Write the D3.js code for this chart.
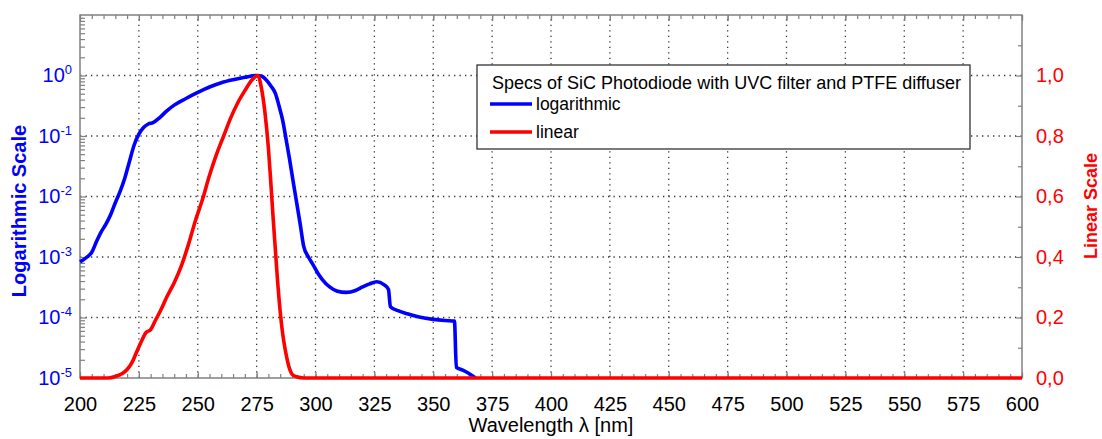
<!DOCTYPE html>
<html>
<head>
<meta charset="utf-8">
<script src="https://cdn.jsdelivr.net/npm/d3@7"></script>
<style>
  body { margin: 0; background: #fff; }
  svg { display: block; font-family: "Liberation Sans", Arial, sans-serif; }
</style>
</head>
<body>
<svg id="chart" width="1102" height="439"></svg>
<script>
// Responsivity, log curve (left axis):
var logWave  = [200, 203, 205, 207, 209, 211, 213, 215, 217, 219, 221, 223, 225, 227, 229, 231, 234, 237, 240, 245,
                250, 255, 260, 265, 270, 275, 277, 279, 281, 283, 284.5, 286, 287.5, 289, 290.5, 292, 293.5, 295, 297, 299,
                301, 303, 306, 309, 313, 317, 320, 323, 326, 329, 331, 331.8, 335, 339, 344, 350, 355, 359, 359.8, 362.5,
                365, 368];
var logValue = [8.3e-4, 1.0e-3, 1.2e-3, 1.8e-3, 2.6e-3, 3.5e-3, 5.0e-3, 7.9e-3, 1.2e-2, 2.0e-2, 3.8e-2, 7.1e-2, 0.107, 0.138, 0.158, 0.166, 0.204, 0.263, 0.324, 0.417,
                0.525, 0.646, 0.759, 0.851, 0.933, 1.0, 0.977, 0.851, 0.676, 0.501, 0.316, 0.186, 8.9e-2, 4.1e-2, 1.78e-2, 7.9e-3, 3.5e-3, 1.5e-3, 1.0e-3, 7.4e-4,
                5.4e-4, 4.2e-4, 3.2e-4, 2.75e-4, 2.6e-4, 2.8e-4, 3.2e-4, 3.6e-4, 3.9e-4, 3.5e-4, 2.9e-4, 1.5e-4, 1.3e-4, 1.15e-4, 1.02e-4, 9.3e-5, 8.9e-5, 8.7e-5, 1.5e-5, 1.35e-5,
                1.2e-5, 1.0e-5];

// Same data on linear axis (right):
var linWave  = [200, 212, 215, 218, 220, 222, 224, 226, 228, 230, 232, 234, 237, 240, 243, 246, 249, 252, 255, 258,
                261, 264, 267, 270, 273, 275.5, 277, 278.5, 280, 281, 282, 283, 284, 285, 286, 287, 288, 289, 290, 292,
                295, 600];
var linValue = [0, 0, 0.005, 0.015, 0.028, 0.05, 0.085, 0.12, 0.15, 0.16, 0.19, 0.22, 0.27, 0.315, 0.37, 0.44, 0.52, 0.59, 0.67, 0.74,
                0.80, 0.86, 0.91, 0.95, 0.985, 1.0, 0.96, 0.88, 0.76, 0.65, 0.53, 0.42, 0.31, 0.22, 0.15, 0.10, 0.06, 0.03, 0.013, 0.004,
                0, 0];

// Axis ticks:
var xTicks   = [200, 225, 250, 275, 300, 325, 350, 375, 400, 425, 450, 475, 500, 525, 550, 575, 600];
var logTicks = [1e-5, 1e-4, 1e-3, 1e-2, 1e-1, 1e0, 1e1];
var linTicks = [0, 0.2, 0.4, 0.6, 0.8, 1.0, 1.2];
var linMinor = [0.1, 0.3, 0.5, 0.7, 0.9, 1.1];

var legendTitle = "Specs of SiC Photodiode with UVC filter and PTFE diffuser";
var seriesNames = ["logarithmic", "linear"];
var seriesColors = ["#0000ff", "#ff0000"];

// Figure proportions:
var W = 1102, H = 439;
var margin = {top: 15, right: 80, bottom: 61, left: 80};
var plotL = margin.left, plotR = W - margin.right,
    plotB = H - margin.bottom, plotT = margin.top;

var x    = d3.scaleLinear().domain([200, 600]).range([plotL, plotR]);
var yLog = d3.scaleLog().domain([1e-5, 10]).range([plotB, plotT]);
var yLin = d3.scaleLinear().domain([0, 1.2]).range([plotB, plotT]);

var svg = d3.select("#chart");

// Dotted grid:
var grid = svg.append("g");
grid.selectAll(".gv")
  .data(xTicks.slice(1, -1))
  .enter().append("line")
    .attr("class", "gv")
    .attr("x1", d => x(d)).attr("x2", d => x(d))
    .attr("y1", plotB).attr("y2", plotT);
grid.selectAll(".gh")
  .data(logTicks.slice(1, -1))
  .enter().append("line")
    .attr("class", "gh")
    .attr("x1", plotL).attr("x2", plotR)
    .attr("y1", d => yLog(d)).attr("y2", d => yLog(d));
grid.selectAll("line")
  .attr("stroke", "#333")
  .attr("stroke-width", 1.3)
  .attr("stroke-dasharray", "1.3,4.2");

function styleAxis(g) {
  g.select(".domain").remove();
  g.selectAll(".tick line").attr("stroke", "#808080").attr("stroke-width", 1.2);
  g.attr("font-family", null).attr("font-size", null);
}

// Bottom and top axes (ticks inward):
var xMinor = d3.range(200, 601, 5);
svg.append("g").attr("transform", "translate(0," + plotB + ")")
  .call(d3.axisBottom(x).tickValues(xMinor).tickSize(-4).tickFormat(""))
  .call(styleAxis);
svg.append("g").attr("transform", "translate(0," + plotT + ")")
  .call(d3.axisTop(x).tickValues(xMinor).tickSize(-4).tickFormat(""))
  .call(styleAxis);
svg.append("g").attr("transform", "translate(0," + plotT + ")")
  .call(d3.axisTop(x).tickValues(xTicks).tickSize(-6).tickFormat(""))
  .call(styleAxis);
var xAxis = svg.append("g").attr("transform", "translate(0," + plotB + ")")
  .call(d3.axisBottom(x).tickValues(xTicks).tickSize(-6).tickPadding(19).tickFormat(d3.format("d")))
  .call(styleAxis);
xAxis.selectAll("text").attr("fill", "#000").style("font-size", "20px");

// Left log axis:
var logMinor = [];
for (var k = -5; k <= 0; k++) {
  for (var m = 2; m <= 9; m++) logMinor.push(m * Math.pow(10, k));
}
svg.append("g").attr("transform", "translate(" + plotL + ",0)")
  .call(d3.axisLeft(yLog).tickValues(logMinor).tickSize(-5).tickFormat(""))
  .call(styleAxis);
var yAxisL = svg.append("g").attr("transform", "translate(" + plotL + ",0)")
  .call(d3.axisLeft(yLog).tickValues(logTicks.slice(0, -1)).tickSize(-6).tickPadding(8).tickFormat(""))
  .call(styleAxis);
yAxisL.selectAll(".tick text").each(function(d) {
  var t = d3.select(this).attr("fill", seriesColors[0]).style("font-size", "20px");
  t.append("tspan").text("10");
  t.append("tspan").attr("dy", "-8").style("font-size", "13px").text(Math.round(Math.log10(d)));
});

// Right linear axis:
svg.append("g").attr("transform", "translate(" + plotR + ",0)")
  .call(d3.axisRight(yLin).tickValues(linMinor).tickSize(-4).tickFormat(""))
  .call(styleAxis);
var yAxisR = svg.append("g").attr("transform", "translate(" + plotR + ",0)")
  .call(d3.axisRight(yLin).tickValues(linTicks.slice(0, -1)).tickSize(-6).tickPadding(14)
    .tickFormat(d => d3.format(".1f")(d).replace(".", ",")))
  .call(styleAxis);
yAxisR.selectAll("text").attr("fill", seriesColors[1]).style("font-size", "20px");

// Plot frame:
svg.append("rect")
  .attr("x", plotL).attr("y", plotT)
  .attr("width", plotR - plotL).attr("height", plotB - plotT)
  .attr("fill", "none").attr("stroke", "#808080").attr("stroke-width", 1.5);

// Curves:
var lineLog = d3.line().x(d => x(d[0])).y(d => yLog(d[1])).curve(d3.curveMonotoneX);
var lineLin = d3.line().x(d => x(d[0])).y(d => yLin(d[1])).curve(d3.curveMonotoneX);
svg.append("path")
  .datum(d3.zip(logWave, logValue))
  .attr("d", lineLog)
  .attr("fill", "none").attr("stroke", seriesColors[0]).attr("stroke-width", 3.6)
  .attr("stroke-linejoin", "round");
svg.append("path")
  .datum(d3.zip(linWave, linValue))
  .attr("d", lineLin)
  .attr("fill", "none").attr("stroke", seriesColors[1]).attr("stroke-width", 3.6)
  .attr("stroke-linejoin", "round");

// Axis titles:
svg.append("text")
  .attr("x", (plotL + plotR) / 2).attr("y", 432)
  .attr("text-anchor", "middle").style("font-size", "20px")
  .text("Wavelength \u03bb [nm]");
svg.append("text")
  .attr("transform", "translate(26,211) rotate(-90)")
  .attr("text-anchor", "middle").style("font-size", "20px").style("font-weight", "bold")
  .attr("fill", seriesColors[0])
  .text("Logarithmic Scale");
svg.append("text")
  .attr("transform", "translate(1097,206) rotate(-90)")
  .attr("text-anchor", "middle").style("font-size", "18px").style("font-weight", "bold")
  .attr("fill", seriesColors[1])
  .text("Linear Scale");

// Legend:
var legend = svg.append("g");
legend.append("rect")
  .attr("x", 477).attr("y", 65).attr("width", 493).attr("height", 84)
  .attr("fill", "#fff").attr("stroke", "#333").attr("stroke-width", 1.3);
legend.append("text")
  .attr("x", 492).attr("y", 89).style("font-size", "18px")
  .text(legendTitle);
var items = legend.selectAll(".item")
  .data(seriesNames)
  .enter().append("g")
    .attr("class", "item")
    .attr("transform", (d, i) => "translate(0," + (104 + i * 28) + ")");
items.append("line")
  .attr("x1", 490).attr("x2", 532)
  .attr("stroke", (d, i) => seriesColors[i]).attr("stroke-width", 3.6);
items.append("text")
  .attr("x", 536).attr("dy", "0.35em").style("font-size", "17.5px")
  .text(d => d);
</script>
</body>
</html>
